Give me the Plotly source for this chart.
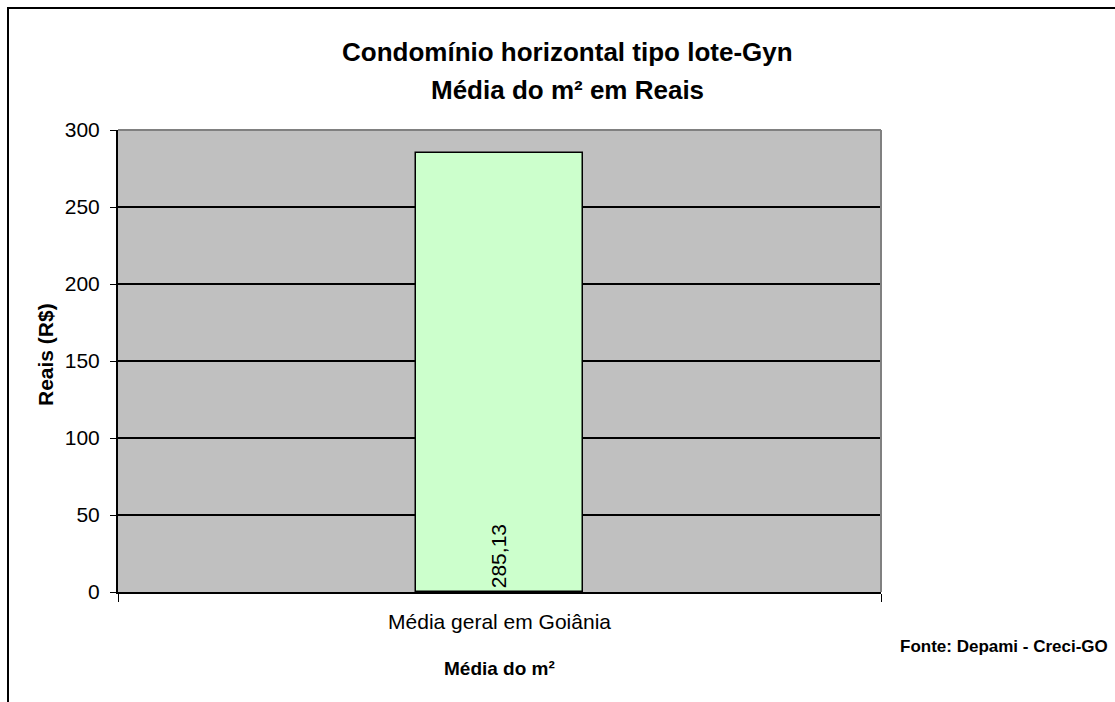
import plotly.graph_objects as go

categorias = ["Média geral em Goiânia"]
valores = [285.13]
rotulos = ["285,13"]

fonte = "Arial, Liberation Sans, sans-serif"

# área do gráfico em pixels (como na imagem original)
L, R, T, B = 118, 881, 130, 592
W, H = 1115, 702


def px(x):
    return (x - L) / (R - L)


def py(y):
    return (B - y) / (B - T)


fig = go.Figure(go.Bar(
    x=categorias,
    y=valores,
    text=rotulos,
    texttemplate="%{text}\u00a0",
    textposition="inside",
    insidetextanchor="start",
    textangle=-90,
    textfont=dict(family=fonte, size=21, color="black"),
    width=0.22,
    marker=dict(color="#CCFFCC", line=dict(color="black", width=1.5)),
    hoverinfo="skip",
))

fig.update_layout(
    width=W,
    height=H,
    margin=dict(l=L, r=W - R, t=T, b=H - B),
    paper_bgcolor="white",
    plot_bgcolor="#C0C0C0",
    font=dict(family=fonte, color="black"),
    showlegend=False,
    bargap=0,
)

fig.update_yaxes(
    range=[0, 300],
    dtick=50,
    showgrid=True,
    gridcolor="black",
    gridwidth=1.5,
    showline=True,
    linecolor="black",
    linewidth=2,
    ticks="outside",
    ticklen=6,
    tickcolor="black",
    tickfont=dict(size=21),
    ticklabelstandoff=6,
    zeroline=False,
)
fig.update_xaxes(
    showline=True,
    linecolor="black",
    linewidth=2,
    ticks="outside",
    tickson="boundaries",
    ticklen=8,
    tickcolor="black",
    tickfont=dict(size=21),
    ticklabelstandoff=10,
    showgrid=False,
)

# bordas da área do gráfico (cinza) e moldura externa
fig.add_shape(type="line", xref="paper", yref="paper", x0=0, x1=1, y0=1, y1=1,
              line=dict(color="#808080", width=2))
fig.add_shape(type="line", xref="paper", yref="paper", x0=1, x1=1, y0=0, y1=1,
              line=dict(color="#808080", width=2))
fig.add_shape(type="rect", xref="paper", yref="paper",
              x0=px(8), x1=px(1125), y0=py(712), y1=py(8),
              line=dict(color="black", width=2))

# títulos
fig.add_annotation(text="<b>Condomínio horizontal tipo lote-Gyn</b>",
                   x=px(567), y=py(52), font=dict(size=26))
fig.add_annotation(text="<b>Média do m² em Reais</b>",
                   x=px(567), y=py(90), font=dict(size=26))
fig.add_annotation(text="<b>Reais (R$)</b>", textangle=-90,
                   x=px(45), y=py(355), font=dict(size=21))
fig.add_annotation(text="<b>Média do m²</b>",
                   x=px(499), y=py(668), font=dict(size=19))
fig.add_annotation(text="<b>Fonte: Depami - Creci-GO</b>",
                   x=px(1110), y=py(646), xanchor="right", font=dict(size=17))
fig.update_annotations(xref="paper", yref="paper", showarrow=False, yanchor="middle")
for a in fig.layout.annotations:
    if a.xanchor is None:
        a.xanchor = "center"

fig.write_html("out.html", config={"displayModeBar": False},
               post_script="document.body.style.margin = '0';")
